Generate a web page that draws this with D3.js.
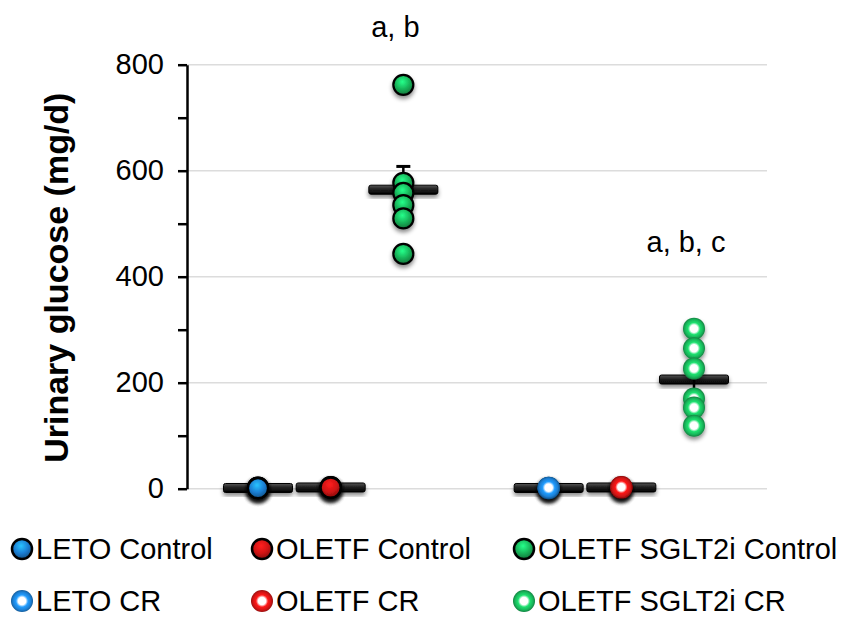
<!DOCTYPE html>
<html>
<head>
<meta charset="utf-8">
<script src="https://cdnjs.cloudflare.com/ajax/libs/d3/7.8.5/d3.min.js"></script>
<style>
  body { margin: 0; background: #fff; }
  svg text { font-family: "Liberation Sans", Arial, Helvetica, sans-serif; fill: #000; }
</style>
</head>
<body>
<div class="chart"></div>
<script>
// data
const groups = ['LETO Control', 'OLETF Control', 'OLETF SGLT2i Control', 'gap', 'LETO CR', 'OLETF CR', 'OLETF SGLT2i CR'];
const legendOrder = ['LETO Control', 'OLETF Control', 'OLETF SGLT2i Control', 'LETO CR', 'OLETF CR', 'OLETF SGLT2i CR'];
const letoControl = [1, 2, 1, 2, 1, 1];
const oletfControl = [2, 3, 2, 2, 3, 2];
const sglt2iControl = [762, 577, 558, 535, 510, 443];
const letoCR = [1, 1, 2, 1, 1, 2];
const oletfCR = [2, 2, 3, 2, 2, 3];
const sglt2iCR = [302, 265, 227, 170, 153, 119];
const errorSide = ['up', 'up', 'up', null, 'up', 'up', 'down'];
const baseColors = ['#1b7fd4', '#d11414', '#18b55a', null, '#1b7fd4', '#d11414', '#18b55a'];
const hollow = [false, false, false, null, true, true, true];
const yTicks = [0, 200, 400, 600, 800];
const sigLabels = [{ group: 'OLETF SGLT2i Control', text: 'a, b' }, { group: 'OLETF SGLT2i CR', text: 'a, b, c' }];

const seriesByGroup = {
  'LETO Control': letoControl,
  'OLETF Control': oletfControl,
  'OLETF SGLT2i Control': sglt2iControl,
  'LETO CR': letoCR,
  'OLETF CR': oletfCR,
  'OLETF SGLT2i CR': sglt2iCR
};

const width = 849, height = 617;
const margin = { top: 65, right: 82, bottom: 128, left: 187 };

const svg = d3.select('.chart').append('svg')
  .attr('width', width)
  .attr('height', height);

const defs = svg.append('defs');
const shadow = defs.append('filter').attr('id', 'shadow')
  .attr('x', '-50%').attr('y', '-50%').attr('width', '200%').attr('height', '200%');
shadow.append('feDropShadow')
  .attr('dx', 0).attr('dy', 3).attr('stdDeviation', 2.2)
  .attr('flood-color', '#000').attr('flood-opacity', 0.45);

// gradients for markers
function gradId(i) { return 'g' + i; }
groups.forEach((g, i) => {
  if (g === 'gap') return;
  const c = d3.color(baseColors[i]);
  const grad = defs.append('radialGradient').attr('id', gradId(i));
  if (hollow[i]) {
    grad.attr('cx', '50%').attr('cy', '50%').attr('r', '50%');
    grad.append('stop').attr('offset', '0%').attr('stop-color', '#fff');
    grad.append('stop').attr('offset', '34%').attr('stop-color', '#fff');
    grad.append('stop').attr('offset', '55%').attr('stop-color', c.brighter(0.6));
    grad.append('stop').attr('offset', '82%').attr('stop-color', c);
    grad.append('stop').attr('offset', '100%').attr('stop-color', c.darker(0.9));
  } else {
    grad.attr('cx', '45%').attr('cy', '35%').attr('r', '65%');
    grad.append('stop').attr('offset', '0%').attr('stop-color', c.brighter(1.2));
    grad.append('stop').attr('offset', '55%').attr('stop-color', c);
    grad.append('stop').attr('offset', '100%').attr('stop-color', c.darker(1.2));
  }
});
const barGrad = defs.append('linearGradient').attr('id', 'bargrad')
  .attr('x1', 0).attr('y1', 0).attr('x2', 0).attr('y2', 1);
barGrad.append('stop').attr('offset', '0%').attr('stop-color', '#555');
barGrad.append('stop').attr('offset', '45%').attr('stop-color', '#222');
barGrad.append('stop').attr('offset', '100%').attr('stop-color', '#000');

const x = d3.scalePoint()
  .domain(groups)
  .range([258, 694]);

const y = d3.scaleLinear()
  .domain([0, 800])
  .range([height - margin.bottom - 0.3, margin.top - 0.3]);

// grid
svg.append('g')
  .selectAll('line')
  .data(yTicks)
  .join('line')
  .attr('x1', margin.left)
  .attr('x2', 767)
  .attr('y1', d => y(d))
  .attr('y2', d => y(d))
  .attr('stroke', '#dcdcdc')
  .attr('stroke-width', 1.5);

// y axis
const yAxis = d3.axisLeft(y)
  .tickValues(d3.range(0, 801, 100))
  .tickFormat(d => yTicks.includes(d) ? d : '')
  .tickSizeInner(9)
  .tickSizeOuter(0)
  .tickPadding(14);
const yAxisDraw = svg.append('g')
  .attr('transform', `translate(${margin.left},0)`)
  .call(yAxis);
yAxisDraw.select('.domain').attr('stroke', '#000').attr('stroke-width', 2.5);
yAxisDraw.selectAll('.tick line').attr('stroke', '#000').attr('stroke-width', 2.5);
yAxisDraw.selectAll('text')
  .style('font-size', '29px')
  .style('font-family', '"Liberation Sans", Arial, sans-serif');

svg.append('text')
  .attr('transform', `translate(68,${(y(0) + y(800)) / 2 + 1}) rotate(-90)`)
  .attr('text-anchor', 'middle')
  .style('font-size', '34px')
  .style('font-weight', 'bold')
  .text('Urinary glucose (mg/d)');

const stats = groups.filter(g => g !== 'gap').map(g => {
  const vals = seriesByGroup[g];
  const i = groups.indexOf(g);
  return {
    group: g,
    i: i,
    mean: d3.mean(vals),
    sem: d3.deviation(vals) / Math.sqrt(vals.length),
    side: errorSide[i]
  };
});

// mean bars
const barW = 69, barH = 9;
svg.append('g').selectAll('rect')
  .data(stats)
  .join('rect')
  .attr('x', d => x(d.group) - barW / 2)
  .attr('y', d => y(d.mean) - barH / 2)
  .attr('width', barW)
  .attr('height', barH)
  .attr('rx', 2)
  .attr('fill', 'url(#bargrad)')
  .attr('stroke', '#000')
  .attr('stroke-width', 1)
  .attr('filter', 'url(#shadow)');

// error bars
const err = svg.append('g');
stats.forEach(d => {
  if (d.sem < 3) return;
  const yEnd = d.side === 'up' ? y(d.mean + d.sem) : y(d.mean - d.sem);
  err.append('line')
    .attr('x1', x(d.group)).attr('x2', x(d.group))
    .attr('y1', y(d.mean)).attr('y2', yEnd)
    .attr('stroke', '#000').attr('stroke-width', 2.5);
  err.append('line')
    .attr('x1', x(d.group) - 7).attr('x2', x(d.group) + 7)
    .attr('y1', yEnd).attr('y2', yEnd)
    .attr('stroke', '#000').attr('stroke-width', 3);
});

// points
const pts = [];
groups.forEach((g, i) => {
  if (g === 'gap') return;
  seriesByGroup[g].forEach(v => pts.push({ group: g, i: i, value: v }));
});
svg.append('g').selectAll('circle')
  .data(pts)
  .join('circle')
  .attr('cx', d => x(d.group))
  .attr('cy', d => y(d.value))
  .attr('r', d => hollow[d.i] ? 11 : 10)
  .attr('fill', d => `url(#${gradId(d.i)})`)
  .attr('stroke', d => hollow[d.i] ? 'none' : '#000')
  .attr('stroke-width', 2.2)
  .attr('filter', 'url(#shadow)');

// significance labels
svg.append('g').selectAll('text')
  .data(sigLabels)
  .join('text')
  .attr('x', d => x(d.group) - 8)
  .attr('y', (d, i) => i === 0 ? 37 : 252)
  .attr('text-anchor', 'middle')
  .style('font-size', '29px')
  .text(d => d.text);

// legend
const legCols = [22, 262, 524];
const legRows = [549, 601];
const leg = svg.append('g').selectAll('g')
  .data(legendOrder)
  .join('g')
  .attr('transform', (d, k) => `translate(${legCols[k % 3]},${legRows[Math.floor(k / 3)]})`);
leg.append('circle')
  .attr('r', d => hollow[groups.indexOf(d)] ? 11 : 10)
  .attr('fill', d => `url(#${gradId(groups.indexOf(d))})`)
  .attr('stroke', d => hollow[groups.indexOf(d)] ? 'none' : '#000')
  .attr('stroke-width', 2.5);
leg.append('text')
  .attr('x', 14)
  .attr('y', 10)
  .style('font-size', '29px')
  .text(d => d);
</script>
</body>
</html>
